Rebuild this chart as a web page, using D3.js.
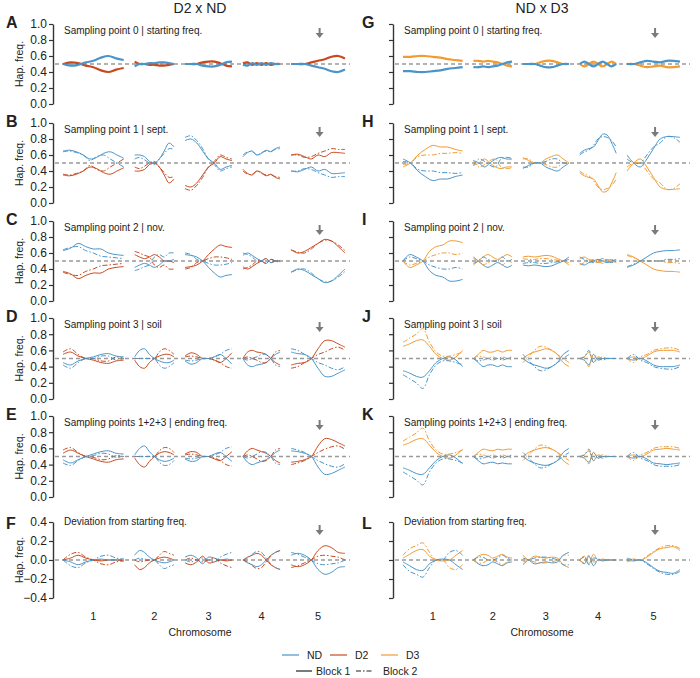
<!DOCTYPE html>
<html>
<head>
<meta charset="utf-8">
<script src="https://cdn.jsdelivr.net/npm/d3@7"></script>
<style>
  body { margin: 0; background: #fff; }
  text { font-family: "Liberation Sans", Arial, sans-serif; fill: #222; }
</style>
</head>
<body>
<div id="chart"></div>
<script>
// chromosome info (Mb)
const chromosomes = ["1", "2", "3", "4", "5"];
const chromLengths = [30.4, 19.7, 23.5, 18.6, 27.0];
const chromGap = 5.5;

const freqTicks = [0, 0.2, 0.4, 0.6, 0.8, 1.0];
const devTicks = [-0.4, -0.2, 0, 0.2, 0.4];

const lettersLeft = ["A", "B", "C", "D", "E", "F"];
const lettersRight = ["G", "H", "I", "J", "K", "L"];
const panelTitles = [
  "Sampling point 0 | starting freq.",
  "Sampling point 1 | sept.",
  "Sampling point 2 | nov.",
  "Sampling point 3 | soil",
  "Sampling points 1+2+3 | ending freq.",
  "Deviation from starting freq."
];
const legendParents = ["ND", "D2", "D3"];
const legendBlocks = ["Block 1", "Block 2"];

// ND haplotype frequency along each chromosome, [block 1, block 2]
// (the other parent is the complement)
// ---- D2 x ND ----
const startD2ND = [
  [[0.5, 0.48, 0.49, 0.52, 0.54, 0.58, 0.6, 0.57, 0.55]],
  [[0.47, 0.5, 0.5, 0.51, 0.51, 0.52, 0.52, 0.51, 0.5]],
  [[0.5, 0.5, 0.5, 0.48, 0.47, 0.47, 0.49, 0.52, 0.53]],
  [[0.49, 0.48, 0.51, 0.49, 0.51, 0.49, 0.51, 0.5, 0.5]],
  [[0.5, 0.5, 0.5, 0.48, 0.46, 0.44, 0.41, 0.4, 0.43]]
];
const septD2ND = [
  [[0.65, 0.66, 0.64, 0.6, 0.55, 0.57, 0.62, 0.64, 0.6, 0.56],
   [0.64, 0.65, 0.63, 0.6, 0.53, 0.58, 0.6, 0.55, 0.5, 0.45]],
  [[0.6, 0.6, 0.58, 0.52, 0.5, 0.55, 0.65, 0.75, 0.7],
   [0.55, 0.57, 0.54, 0.5, 0.48, 0.55, 0.62, 0.68, 0.67]],
  [[0.78, 0.8, 0.75, 0.65, 0.55, 0.5, 0.42, 0.45, 0.47],
   [0.82, 0.84, 0.78, 0.68, 0.55, 0.48, 0.4, 0.43, 0.45]],
  [[0.58, 0.63, 0.65, 0.6, 0.62, 0.66, 0.64, 0.68, 0.7],
   [0.6, 0.64, 0.64, 0.6, 0.63, 0.65, 0.65, 0.67, 0.68]],
  [[0.4, 0.39, 0.42, 0.45, 0.4, 0.42, 0.37, 0.37, 0.38],
   [0.4, 0.4, 0.43, 0.42, 0.38, 0.35, 0.32, 0.33, 0.33]]
];
const novD2ND = [
  [[0.63, 0.66, 0.72, 0.68, 0.65, 0.65, 0.6, 0.58, 0.57],
   [0.64, 0.67, 0.68, 0.63, 0.6, 0.56, 0.55, 0.54, 0.53]],
  [[0.42, 0.45, 0.47, 0.45, 0.42, 0.45, 0.5, 0.5, 0.52],
   [0.38, 0.4, 0.43, 0.45, 0.55, 0.58, 0.55, 0.6, 0.6]],
  [[0.58, 0.57, 0.55, 0.5, 0.42, 0.35, 0.3, 0.32, 0.33],
   [0.6, 0.58, 0.52, 0.5, 0.47, 0.45, 0.45, 0.46, 0.48]],
  [[0.57, 0.6, 0.57, 0.53, 0.5, 0.47, 0.52, 0.5, 0.5],
   [0.6, 0.58, 0.55, 0.5, 0.5, 0.53, 0.48, 0.5, 0.52]],
  [[0.36, 0.4, 0.38, 0.33, 0.28, 0.23, 0.25, 0.32, 0.4],
   [0.36, 0.39, 0.4, 0.35, 0.28, 0.24, 0.25, 0.3, 0.37]]
];
const soilD2ND = [
  [[0.45, 0.42, 0.47, 0.5, 0.52, 0.55, 0.56, 0.53, 0.52],
   [0.42, 0.38, 0.45, 0.5, 0.5, 0.53, 0.53, 0.48, 0.5]],
  [[0.52, 0.6, 0.62, 0.55, 0.5, 0.47, 0.45, 0.45, 0.48],
   [0.5, 0.5, 0.5, 0.5, 0.5, 0.42, 0.38, 0.4, 0.45]],
  [[0.47, 0.43, 0.45, 0.5, 0.5, 0.52, 0.55, 0.5, 0.43],
   [0.48, 0.47, 0.48, 0.5, 0.5, 0.52, 0.55, 0.6, 0.62]],
  [[0.5, 0.42, 0.4, 0.42, 0.43, 0.45, 0.5, 0.55, 0.58],
   [0.5, 0.48, 0.5, 0.52, 0.55, 0.55, 0.5, 0.42, 0.4]],
  [[0.58, 0.56, 0.55, 0.5, 0.38, 0.28, 0.28, 0.32, 0.36],
   [0.62, 0.6, 0.55, 0.5, 0.45, 0.42, 0.38, 0.36, 0.4]]
];
const endD2ND = [
  [[0.46, 0.42, 0.46, 0.5, 0.53, 0.56, 0.57, 0.54, 0.53],
   [0.42, 0.39, 0.45, 0.5, 0.51, 0.54, 0.53, 0.49, 0.5]],
  [[0.52, 0.6, 0.63, 0.56, 0.5, 0.46, 0.44, 0.45, 0.48],
   [0.5, 0.5, 0.5, 0.5, 0.5, 0.43, 0.39, 0.4, 0.45]],
  [[0.47, 0.44, 0.45, 0.5, 0.5, 0.53, 0.55, 0.5, 0.44],
   [0.48, 0.47, 0.48, 0.5, 0.5, 0.52, 0.55, 0.6, 0.62]],
  [[0.5, 0.43, 0.4, 0.42, 0.44, 0.46, 0.5, 0.55, 0.58],
   [0.5, 0.48, 0.5, 0.53, 0.56, 0.55, 0.5, 0.42, 0.4]],
  [[0.57, 0.56, 0.54, 0.5, 0.37, 0.28, 0.29, 0.33, 0.37],
   [0.6, 0.58, 0.55, 0.5, 0.45, 0.41, 0.38, 0.37, 0.41]]
];
const devD2ND = [
  [[0, -0.02, -0.05, -0.02, 0, 0.01, 0, 0, 0.01],
   [0, -0.06, -0.08, -0.03, 0, 0.04, 0.05, 0.02, 0.01]],
  [[0.05, 0.1, 0.08, 0.03, 0, -0.02, -0.03, -0.02, 0],
   [0, 0.02, 0.01, 0, 0, -0.05, -0.09, -0.07, -0.05]],
  [[0.03, 0.05, 0.02, -0.04, 0.03, 0.02, 0, 0.01, 0],
   [0, -0.02, 0, 0.02, 0, -0.02, 0.03, 0.06, 0.08]],
  [[0, -0.03, -0.05, -0.07, -0.05, 0, 0.05, 0.08, 0.1],
   [0, 0.02, 0.06, 0.09, 0.08, 0.02, -0.04, -0.08, -0.1]],
  [[0.05, 0.07, 0.05, 0, -0.1, -0.15, -0.13, -0.08, -0.07],
   [0.08, 0.06, 0.03, 0, -0.04, -0.05, -0.04, -0.03, 0]]
];
// ---- ND x D3 ----
const startNDD3 = [
  [[0.41, 0.41, 0.4, 0.4, 0.41, 0.42, 0.44, 0.45, 0.46]],
  [[0.46, 0.46, 0.47, 0.46, 0.47, 0.48, 0.5, 0.52, 0.53]],
  [[0.5, 0.5, 0.5, 0.48, 0.46, 0.46, 0.48, 0.5, 0.5]],
  [[0.5, 0.53, 0.5, 0.47, 0.5, 0.53, 0.5, 0.47, 0.5]],
  [[0.5, 0.5, 0.52, 0.54, 0.53, 0.52, 0.54, 0.54, 0.53]]
];
const septNDD3 = [
  [[0.55, 0.5, 0.4, 0.33, 0.28, 0.3, 0.3, 0.33, 0.35],
   [0.52, 0.5, 0.42, 0.4, 0.4, 0.38, 0.38, 0.37, 0.38]],
  [[0.53, 0.5, 0.45, 0.5, 0.55, 0.57, 0.55, 0.55],
   [0.47, 0.55, 0.52, 0.47, 0.45, 0.55, 0.57, 0.56]],
  [[0.43, 0.47, 0.5, 0.5, 0.45, 0.42, 0.4, 0.45, 0.5],
   [0.45, 0.45, 0.5, 0.5, 0.52, 0.55, 0.55, 0.5, 0.5]],
  [[0.62, 0.66, 0.68, 0.7, 0.78, 0.86, 0.85, 0.75, 0.62],
   [0.6, 0.64, 0.66, 0.72, 0.8, 0.83, 0.82, 0.78, 0.7]],
  [[0.6, 0.5, 0.45, 0.55, 0.68, 0.8, 0.83, 0.83, 0.82],
   [0.55, 0.5, 0.5, 0.6, 0.7, 0.75, 0.83, 0.82, 0.76]]
];
const novNDD3 = [
  [[0.5, 0.58, 0.55, 0.5, 0.38, 0.32, 0.3, 0.25, 0.25, 0.27],
   [0.5, 0.55, 0.53, 0.5, 0.45, 0.42, 0.4, 0.4, 0.42, 0.4]],
  [[0.55, 0.5, 0.45, 0.42, 0.45, 0.48, 0.45, 0.42, 0.45],
   [0.47, 0.5, 0.55, 0.52, 0.5, 0.5, 0.55, 0.5, 0.52]],
  [[0.45, 0.44, 0.45, 0.44, 0.43, 0.44, 0.47, 0.5, 0.55],
   [0.47, 0.48, 0.48, 0.47, 0.47, 0.48, 0.49, 0.5, 0.52]],
  [[0.47, 0.45, 0.48, 0.5, 0.52, 0.5, 0.48, 0.5, 0.52],
   [0.55, 0.52, 0.5, 0.48, 0.5, 0.53, 0.5, 0.48, 0.5]],
  [[0.42, 0.45, 0.5, 0.55, 0.6, 0.62, 0.63, 0.63, 0.64],
   [0.43, 0.46, 0.5, 0.5, 0.5, 0.5, 0.52, 0.52, 0.53]]
];
const soilNDD3 = [
  [[0.35, 0.32, 0.28, 0.27, 0.35, 0.45, 0.5, 0.52, 0.48, 0.4],
   [0.3, 0.25, 0.2, 0.13, 0.3, 0.42, 0.47, 0.47, 0.45, 0.42]],
  [[0.5, 0.45, 0.4, 0.42, 0.42, 0.4, 0.42, 0.4, 0.4],
   [0.5, 0.47, 0.48, 0.5, 0.48, 0.5, 0.48, 0.5, 0.52]],
  [[0.5, 0.45, 0.42, 0.4, 0.38, 0.4, 0.45, 0.55, 0.6],
   [0.55, 0.48, 0.4, 0.35, 0.36, 0.4, 0.45, 0.5, 0.55]],
  [[0.5, 0.48, 0.42, 0.55, 0.48, 0.5, 0.5, 0.5, 0.5],
   [0.5, 0.52, 0.6, 0.45, 0.5, 0.48, 0.5, 0.5, 0.5]],
  [[0.5, 0.48, 0.5, 0.47, 0.42, 0.4, 0.4, 0.4, 0.42],
   [0.5, 0.55, 0.48, 0.45, 0.4, 0.38, 0.37, 0.37, 0.4]]
];
const endNDD3 = [
  [[0.36, 0.33, 0.29, 0.28, 0.36, 0.45, 0.5, 0.52, 0.48, 0.41],
   [0.31, 0.26, 0.21, 0.15, 0.31, 0.42, 0.47, 0.47, 0.45, 0.42]],
  [[0.5, 0.45, 0.41, 0.42, 0.43, 0.41, 0.42, 0.41, 0.41],
   [0.5, 0.47, 0.48, 0.5, 0.48, 0.5, 0.48, 0.5, 0.52]],
  [[0.5, 0.45, 0.42, 0.4, 0.39, 0.41, 0.45, 0.55, 0.6],
   [0.55, 0.48, 0.41, 0.36, 0.37, 0.41, 0.45, 0.5, 0.55]],
  [[0.5, 0.48, 0.43, 0.55, 0.48, 0.5, 0.5, 0.5, 0.5],
   [0.5, 0.52, 0.59, 0.45, 0.5, 0.48, 0.5, 0.5, 0.5]],
  [[0.5, 0.48, 0.5, 0.47, 0.42, 0.41, 0.4, 0.41, 0.42],
   [0.5, 0.55, 0.48, 0.45, 0.4, 0.38, 0.38, 0.38, 0.4]]
];
const devNDD3 = [
  [[-0.02, -0.06, -0.1, -0.11, -0.04, 0, 0.01, 0, -0.05, -0.1],
   [-0.05, -0.12, -0.15, -0.18, -0.08, 0, 0, 0.08, 0.1, 0.05]],
  [[0, -0.04, -0.06, -0.05, -0.02, -0.04, -0.06, -0.03, -0.02],
   [0, 0.03, 0.03, 0, 0, 0.02, 0.05, 0.02, 0]],
  [[0.02, 0, -0.04, -0.03, -0.02, -0.03, -0.02, 0.05, 0.08],
   [-0.05, 0, 0.02, 0.03, 0.03, 0.02, 0, -0.05, -0.05]],
  [[0, -0.04, 0.04, -0.06, 0, -0.01, 0, 0, 0],
   [0, 0.03, -0.05, 0.02, 0.01, 0, 0, 0, 0]],
  [[0, -0.01, 0, -0.03, -0.08, -0.12, -0.13, -0.14, -0.1],
   [0.02, 0, 0, -0.04, -0.09, -0.13, -0.15, -0.15, -0.12]]
];

const colorND = "#4a94c8", colorD2 = "#c8491e", colorD3 = "#f29b30";

const width = 700, height = 678;
const svg = d3.select("#chart").append("svg")
    .attr("width", width)
    .attr("height", height);

// vertical layout of the six rows
const rowTop = [24, 123, 221, 318, 416, 522];
const rowBottom = [104, 203, 301, 399, 497, 598];
const letterY = [28, 127, 225, 322, 420, 529];
const titleY = [34, 133, 231, 328, 426, 525];
const arrowY = [28, 127, 225, 322, 420, 525];

// cumulative chromosome starts
const chromStarts = [];
let acc = 0;
chromLengths.forEach((L, i) => {
    chromStarts.push(acc);
    acc += L + (i < chromLengths.length - 1 ? chromGap : 0);
});
const genomeLen = acc;

const columns = [
    {title: "D2 x ND", titleX: 200, axisX: 53, x0: 63, x1: 345, lineEnd: 350,
     letterX: 6, letters: lettersLeft, labels: true, other: colorD2,
     panels: [startD2ND, septD2ND, novD2ND, soilD2ND, endD2ND, devD2ND]},
    {title: "ND x D3", titleX: 542, axisX: 393, x0: 403, x1: 680, lineEnd: 690,
     letterX: 362, letters: lettersRight, labels: false, other: colorD3,
     panels: [startNDD3, septNDD3, novNDD3, soilNDD3, endNDD3, devNDD3]}
];

columns.forEach((col) => {
    let x = d3.scaleLinear().domain([0, genomeLen]).range([col.x0, col.x1]);

    svg.append("text")
        .attr("x", col.titleX).attr("y", 13)
        .attr("text-anchor", "middle")
        .style("font-size", "14px")
        .text(col.title);

    col.panels.forEach((panel, r) => {
        let isDev = r === 5;
        let y = d3.scaleLinear()
            .domain(isDev ? [-0.4, 0.4] : [0, 1])
            .range([rowBottom[r], rowTop[r]]);
        let g = svg.append("g");

        // y axis
        let axis = d3.axisLeft(y)
            .tickValues(isDev ? devTicks : freqTicks)
            .tickSize(4).tickSizeOuter(0)
            .tickFormat(col.labels ? d3.format(".1f") : "");
        let ax = g.append("g")
            .attr("transform", `translate(${col.axisX},0)`)
            .call(axis);
        ax.select(".domain").attr("stroke", "#333").attr("stroke-width", 1.4);
        ax.selectAll(".tick line").attr("stroke", "#333").attr("stroke-width", 1.2);
        ax.selectAll(".tick text")
            .style("font-size", "12px")
            .style("font-family", "Liberation Sans, Arial, sans-serif")
            .attr("fill", "#222")
            .attr("x", -6)
            .text((d) => d3.format(".1f")(d).replace("-", "\u2212"));
        if (!col.labels) ax.selectAll(".tick text").remove();

        if (col.labels) {
            let cy = (rowTop[r] + rowBottom[r]) / 2;
            g.append("text")
                .attr("transform", `translate(23,${cy}) rotate(-90)`)
                .attr("text-anchor", "middle")
                .style("font-size", "10.5px")
                .text("Hap. freq.");
        }

        // panel letter
        g.append("text")
            .attr("x", col.letterX).attr("y", letterY[r])
            .style("font-size", "16px").style("font-weight", "bold")
            .text(col.letters[r]);

        // panel subtitle
        g.append("text")
            .attr("x", col.x0 + 1).attr("y", titleY[r])
            .style("font-size", "10px")
            .text(panelTitles[r]);

        // reference line
        let ref = isDev ? 0 : 0.5;
        g.append("line")
            .attr("x1", col.axisX + 2).attr("x2", col.lineEnd)
            .attr("y1", y(ref)).attr("y2", y(ref))
            .attr("stroke", "#9a9a9a").attr("stroke-width", 1.3)
            .attr("stroke-dasharray", "4,3");

        // arrow marking chromosome 5 region
        let ax5 = col.x0 + (col.x1 - col.x0) * 0.91;
        let ay = arrowY[r];
        g.append("line")
            .attr("x1", ax5).attr("x2", ax5)
            .attr("y1", ay).attr("y2", ay + 6)
            .attr("stroke", "#7a7a7a").attr("stroke-width", 2);
        g.append("path")
            .attr("d", `M${ax5 - 4},${ay + 5} L${ax5 + 4},${ay + 5} L${ax5},${ay + 10} Z`)
            .attr("fill", "#7a7a7a");

        // haplotype lines
        let line = d3.line()
            .x((d) => x(d.pos))
            .y((d) => y(d.v))
            .curve(d3.curveCatmullRom.alpha(0.5));

        panel.forEach((blocks, c) => {
            blocks.forEach((vals, b) => {
                let n = vals.length;
                let pts = vals.map((v, k) => ({pos: chromStarts[c] + chromLengths[c] * k / (n - 1), v: v}));
                let comp = pts.map((p) => ({pos: p.pos, v: isDev ? -p.v : 1 - p.v}));
                let lw = r === 0 ? 2.2 : 1;
                let dash = b === 1 ? "5,2,1.5,2" : null;
                [[comp, col.other], [pts, colorND]].forEach(([dat, colr]) => {
                    g.append("path")
                        .datum(dat)
                        .attr("d", line)
                        .attr("fill", "none")
                        .attr("stroke", colr)
                        .attr("stroke-width", lw)
                        .attr("stroke-dasharray", dash);
                });
            });
        });
    });

    // chromosome labels
    chromosomes.forEach((ch, i) => {
        svg.append("text")
            .attr("x", x(chromStarts[i] + chromLengths[i] / 2))
            .attr("y", 620)
            .attr("text-anchor", "middle")
            .style("font-size", "11px")
            .text(ch);
    });
    svg.append("text")
        .attr("x", col.titleX).attr("y", 636)
        .attr("text-anchor", "middle")
        .style("font-size", "10.5px")
        .text("Chromosome");
});

// legend
const legendColors = [colorND, colorD2, colorD3];
const legRow1 = [282, 330, 381];
legendParents.forEach((p, i) => {
    svg.append("line")
        .attr("x1", legRow1[i]).attr("x2", legRow1[i] + 17)
        .attr("y1", 655).attr("y2", 655)
        .attr("stroke", legendColors[i]).attr("stroke-width", 1.2);
    svg.append("text")
        .attr("x", legRow1[i] + 25).attr("y", 659)
        .style("font-size", "10.5px")
        .text(p);
});
const legRow2 = [296, 356];
legendBlocks.forEach((b, i) => {
    svg.append("line")
        .attr("x1", legRow2[i]).attr("x2", legRow2[i] + 16)
        .attr("y1", 671).attr("y2", 671)
        .attr("stroke", "#222").attr("stroke-width", 1.2)
        .attr("stroke-dasharray", i === 1 ? "5,2,1.5,2" : null);
    svg.append("text")
        .attr("x", legRow2[i] + (i === 0 ? 20 : 27)).attr("y", 675)
        .style("font-size", "10.5px")
        .text(b);
});
</script>
</body>
</html>
